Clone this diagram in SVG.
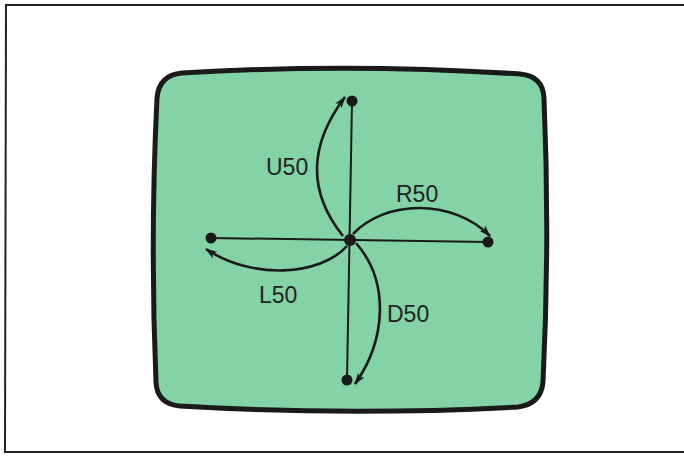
<svg xmlns="http://www.w3.org/2000/svg" width="684" height="460" viewBox="0 0 684 460">
<style>
.frame{fill:none;stroke:#222;stroke-width:2}
.screen{fill:#84d3a6;stroke:#1a1a1a;stroke-width:5}
.axis{fill:none;stroke:#1a1a1a;stroke-width:2}
.arc{fill:none;stroke:#1a1a1a;stroke-width:2.6;marker-end:url(#ah)}
.dot{fill:#1a1a1a}
.lbl{font-family:"Liberation Sans",Arial,sans-serif;font-size:23px;fill:#222}
</style>
<defs>
<marker id="ah" viewBox="0 0 12 8" refX="11" refY="4" markerWidth="12" markerHeight="8" markerUnits="userSpaceOnUse" orient="auto">
<path d="M0,0 L12,4 L0,8 L3,4 Z" fill="#1a1a1a"/>
</marker>
</defs>
<rect width="684" height="460" fill="#ffffff"/>
<path class="frame" d="M690,5 L6,5 L5,452 L690,452"/>
<g id="screen">
<path class="screen" d="M182,73 Q350,63 520,74 Q543,76 544,98 Q550,240 543,382 Q541,404 518,407 Q350,416 180,406 Q157,404 156,382 Q150,240 157,98 Q159,75 182,73 Z"/>
</g>
<g id="connectors">
<path class="axis" d="M352,101 L347,380"/>
<path class="axis" d="M211,238 L488,242"/>
<path class="arc" d="M343,236 Q290,170 345,97"/>
<path class="arc" d="M353,234 C385,200 452,198 490,236"/>
<path class="arc" d="M347,246 C320,276 252,280 206,249"/>
<path class="arc" d="M356,243 C390,282 386,340 355,384"/>
</g>
<g id="center"><circle class="dot" cx="350" cy="240" r="6"/></g>
<g id="top"><circle class="dot" cx="352" cy="101" r="5.5"/></g>
<g id="right"><circle class="dot" cx="488" cy="242" r="5.5"/></g>
<g id="left"><circle class="dot" cx="211" cy="238" r="5.5"/></g>
<g id="bottom"><circle class="dot" cx="347" cy="380" r="5.5"/></g>
<g id="labels">
<text class="lbl" x="266" y="175">U50</text>
<text class="lbl" x="396" y="202">R50</text>
<text class="lbl" x="259" y="303">L50</text>
<text class="lbl" x="387" y="322">D50</text>
</g>
</svg>
